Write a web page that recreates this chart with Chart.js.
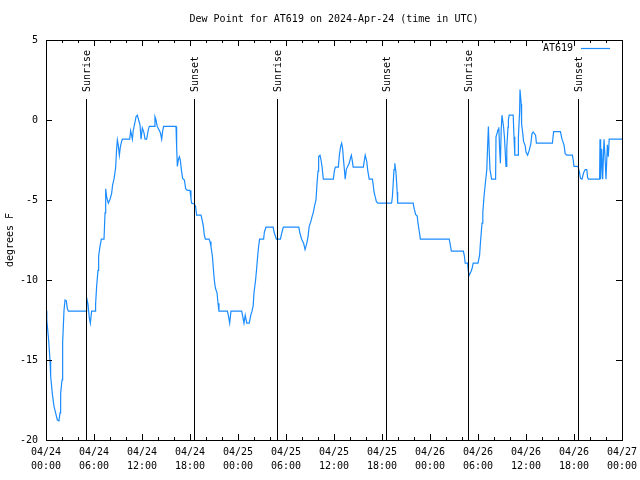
<!DOCTYPE html>
<html>
<head>
<meta charset="utf-8">
<script src="https://cdn.jsdelivr.net/npm/chart.js@4/dist/chart.umd.min.js"></script>
<style>
  html, body { margin: 0; padding: 0; background: #fff; }
</style>
</head>
<body>
<canvas id="dew-chart" width="640" height="480"></canvas>
<script>
// time in hours since 2024-04-24 00:00 UTC, dew point in degrees F
const hours = [
  0.0, 0.1, 0.33, 0.5, 0.58, 0.79, 1.0, 1.2, 1.42, 1.62, 1.75, 1.83, 2.0, 2.08, 2.25, 2.38, 2.54, 2.67, 2.8,
  5.0, 5.08, 5.25, 5.4, 5.54, 5.7, 6.17, 6.2, 6.33, 6.5, 6.58, 6.75, 6.92, 7.25, 7.38, 7.46, 7.58, 7.79,
  8.0, 8.2, 8.33, 8.5, 8.62, 8.7, 8.83, 8.92, 9.04, 9.17, 9.29, 9.42, 9.54, 10.46, 10.58, 10.8, 10.9,
  11.08, 11.25, 11.42, 11.58, 11.75, 11.88, 12.04, 12.25, 12.38, 12.58, 12.79, 12.92, 13.5, 13.62, 13.75,
  13.9, 14.1, 14.3, 14.46, 14.58, 14.7, 16.25, 16.33, 16.42, 16.54, 16.67, 16.79, 16.92, 17.08, 17.3,
  17.46, 17.67, 18.0, 18.12, 18.2, 18.54, 18.7, 18.83, 19.38, 19.54, 19.67, 19.79, 19.92, 20.38, 20.5,
  20.62, 20.8, 20.92, 21.04, 21.17, 21.38, 21.5, 21.62, 22.67, 22.79, 22.96, 23.12, 24.46, 24.6, 24.75,
  24.9, 25.1, 25.4, 25.6, 25.75, 25.9, 26.0, 26.2, 26.33, 26.46, 26.6, 26.7, 27.2, 27.3, 27.5, 28.4,
  28.5, 28.7, 28.8, 29.3, 29.5, 29.67, 31.6, 31.75, 31.96, 32.2, 32.38, 32.6, 32.75, 32.9, 33.1, 33.25,
  33.4, 33.6, 33.75, 33.88, 34.0, 34.08, 34.25, 34.38, 34.5, 34.67, 35.92, 36.04, 36.17, 36.54, 36.67,
  36.83, 36.96, 37.08, 37.17, 37.3, 37.4, 37.54, 37.7, 37.9, 38.1, 38.17, 38.3, 38.4, 39.67, 39.8, 39.9,
  40.1, 40.2, 40.4, 40.8, 40.9, 41.0, 41.2, 41.3, 41.5, 43.2, 43.3, 43.5, 43.6, 43.75, 43.9, 43.96,
  45.9, 46.0, 46.2, 46.4, 46.5, 46.67, 46.8, 50.4, 50.5, 50.67, 52.17, 52.3, 52.4, 52.7, 52.8, 52.9,
  53.1, 53.25, 53.4, 54.0, 54.2, 54.3, 54.5, 54.6, 54.75, 54.9, 55.1, 55.2, 55.3, 55.4, 55.5, 55.7,
  56.2, 56.25, 56.4, 56.5, 56.6, 56.7, 56.8, 56.9, 57.0, 57.2, 57.3, 57.5, 57.6, 57.75, 57.8, 57.9,
  58.4, 58.5, 58.6, 59.0, 59.05, 59.2, 59.25, 59.4, 59.45, 59.6, 59.7, 59.9, 60.0, 60.2, 60.4, 60.6,
  60.75, 60.9, 61.2, 61.3, 63.3, 63.45, 64.3, 64.5, 64.75, 64.9, 65.1, 65.8, 65.9, 66.0, 66.5, 66.7,
  66.8, 67.0, 67.2, 67.4, 67.6, 67.7, 67.8, 69.2, 69.25, 69.33, 69.46, 69.58, 69.75, 69.88, 70.0,
  70.17, 70.29, 70.4, 72.0
];
const dewPoint = [
  -11.9, -12.5, -13.75, -15, -16, -17.1, -17.9, -18.3, -18.75, -18.8, -18.3, -17.1, -16.25, -13.9, -11.9, -11.25, -11.3, -11.8, -11.95,
  -11.95, -11.1, -11.5, -12.3, -12.7, -11.95, -11.95, -11.5, -10.4, -9.4, -8.5, -7.9, -7.45, -7.45, -5.8, -4.3, -4.8, -5.2,
  -4.95, -4.6, -4.05, -3.7, -3.7, -3.0, -1.8, -1.25, -1.6, -2.2, -1.7, -1.4, -1.2, -1.2, -0.67, -1.2, -0.67,
  -0.25, 0.2, 0.3, 0.0, -0.3, -1.2, -0.5, -0.8, -1.2, -1.2, -0.6, -0.4, -0.4, 0.2, 0.0,
  -0.4, -0.6, -0.8, -1.2, -0.7, -0.4, -0.4, -1.7, -2.9, -2.5, -2.3, -2.5, -3.1, -3.65, -3.75,
  -4.3, -4.4, -4.4, -4.9, -5.2, -5.25, -5.4, -5.95, -5.95, -6.3, -6.65, -7.2, -7.45, -7.45, -7.6,
  -7.9, -8.5, -9.3, -10.0, -10.5, -10.8, -11.45, -11.95, -11.95, -12.2, -12.7, -11.95, -11.95, -12.3, -12.7,
  -12.2, -12.7, -12.7, -12.2, -11.95, -11.6, -10.8, -10.0, -9.3, -8.5, -7.8, -7.45, -7.45, -7.0, -6.7, -6.7,
  -7.0, -7.3, -7.45, -7.45, -7.0, -6.7, -6.7, -7.1, -7.45, -7.7, -8.1, -7.7, -7.3, -6.65, -6.35, -6.05,
  -5.8, -5.3, -5.0, -3.95, -3.2, -2.3, -2.2, -2.5, -2.9, -3.7, -3.7, -3.2, -2.95, -2.95, -2.2,
  -1.65, -1.45, -1.8, -2.4, -3.1, -3.7, -3.1, -2.9, -2.7, -2.3, -2.2, -2.6, -2.95, -2.95, -2.5, -2.2,
  -2.6, -3.1, -3.7, -3.7, -4.05, -4.5, -4.9, -5.1, -5.2, -5.2, -4.8, -3.1, -2.7, -3.3, -4.5, -5.2,
  -5.2, -5.5, -5.9, -6.0, -6.45, -7.0, -7.45, -7.45, -7.7, -8.2, -8.2, -8.5, -8.95, -8.95, -9.5, -9.7,
  -9.5, -9.3, -8.95, -8.95, -8.45, -7.7, -6.45, -5.8, -4.8, -4.05, -3.1, -1.65, -0.4, -1.9, -3.1, -3.7,
  -3.7, -1.05, -0.8, -0.6, -0.45, -1.8, -2.7, -0.6, 0.3, -0.45, -1.05, -2.9, -1.7, -0.45, 0.0, 0.3,
  0.3, -1.05, -2.2, -2.2, -1.05, 0.5, 1.9, 1.0, -0.25, -0.85, -1.35, -1.6, -2.0, -2.2, -1.9, -1.5,
  -0.85, -0.75, -0.95, -1.45, -1.45, -0.73, -0.73, -1.2, -1.55, -2.1, -2.2, -2.2, -2.5, -2.9, -2.9, -3.3,
  -3.65, -3.7, -3.3, -3.1, -3.1, -3.6, -3.7, -3.7, -1.2, -3.7, -1.8, -3.7, -1.2, -2.3, -3.7,
  -1.55, -2.3, -1.2, -1.2
];

const tickDates = ['04/24', '04/24', '04/24', '04/24', '04/25', '04/25', '04/25', '04/25', '04/26', '04/26', '04/26', '04/26', '04/27'];
const tickTimes = ['00:00', '06:00', '12:00', '18:00', '00:00', '06:00', '12:00', '18:00', '00:00', '06:00', '12:00', '18:00', '00:00'];

const sunTimes = [5.04, 18.54, 28.92, 42.54, 52.8, 66.54];
const sunLabels = ['Sunrise', 'Sunset', 'Sunrise', 'Sunset', 'Sunrise', 'Sunset'];

const lineColor = '#1a8cff';
const mono = "'DejaVu Sans Mono', monospace";

// gnuplot style frame: box, inward ticks, sunrise/sunset markers, key
const gnuplotFrame = {
  id: 'gnuplotFrame',
  afterDatasetsDraw(chart) {
    const { ctx, chartArea: a, scales: { x, y } } = chart;
    ctx.save();
    ctx.strokeStyle = '#000';
    ctx.lineWidth = 1;

    ctx.strokeRect(a.left + 0.5, a.top + 0.5, a.right - a.left, a.bottom - a.top);

    ctx.beginPath();
    for (let h = 0; h <= 72; h += 2) {
      const px = Math.round(x.getPixelForValue(h)) + 0.5;
      const len = h % 6 === 0 ? 6 : 3;
      ctx.moveTo(px, a.bottom); ctx.lineTo(px, a.bottom - len);
      ctx.moveTo(px, a.top); ctx.lineTo(px, a.top + len);
    }
    for (let v = -20; v <= 5; v += 5) {
      const py = Math.round(y.getPixelForValue(v)) + 0.5;
      ctx.moveTo(a.left, py); ctx.lineTo(a.left + 6, py);
      ctx.moveTo(a.right, py); ctx.lineTo(a.right - 6, py);
    }
    ctx.stroke();

    ctx.font = '10px ' + mono;
    ctx.fillStyle = '#000';
    sunTimes.forEach((t, i) => {
      const px = Math.round(x.getPixelForValue(t)) + 0.5;
      ctx.beginPath();
      ctx.moveTo(px, 99);
      ctx.lineTo(px, a.bottom);
      ctx.stroke();
      ctx.save();
      ctx.translate(px + 1, 92);
      ctx.rotate(-Math.PI / 2);
      ctx.textAlign = 'left';
      ctx.textBaseline = 'middle';
      ctx.fillText(sunLabels[i], 0, 0);
      ctx.restore();
    });

    // key
    ctx.textAlign = 'right';
    ctx.textBaseline = 'middle';
    ctx.fillText(chart.data.datasets[0].label, 573, 48);
    ctx.strokeStyle = lineColor;
    ctx.lineWidth = 1.2;
    ctx.beginPath();
    ctx.moveTo(581, 48.5);
    ctx.lineTo(610, 48.5);
    ctx.stroke();
    ctx.restore();
  }
};

new Chart(document.getElementById('dew-chart'), {
  type: 'line',
  data: {
    datasets: [{
      label: 'AT619',
      data: hours.map((h, i) => ({ x: h, y: dewPoint[i] })),
      borderColor: lineColor,
      borderWidth: 1.2,
      pointRadius: 0,
      tension: 0,
      fill: false
    }]
  },
  options: {
    responsive: false,
    animation: false,
    devicePixelRatio: 1,
    layout: { padding: { left: 0, right: 18, top: 0, bottom: 0 } },
    plugins: {
      legend: { display: false },
      tooltip: { enabled: false },
      title: {
        display: true,
        fullSize: false,
        text: 'Dew Point for AT619 on 2024-Apr-24 (time in UTC)',
        color: '#000',
        font: { family: mono, size: 10, weight: 'normal', lineHeight: 1.2 },
        padding: { top: 13, bottom: 15 }
      }
    },
    scales: {
      x: {
        type: 'linear',
        min: 0,
        max: 72,
        grid: { display: false, drawTicks: false },
        border: { display: false },
        afterFit: s => { s.height = 40; s.paddingLeft = 0; s.paddingRight = 0; },
        ticks: {
          stepSize: 6,
          autoSkip: false,
          maxRotation: 0,
          padding: 6,
          color: '#000',
          font: { family: mono, size: 10, lineHeight: 1.35 },
          callback: v => [tickDates[v / 6], tickTimes[v / 6]]
        }
      },
      y: {
        min: -20,
        max: 5,
        grid: { display: false, drawTicks: false },
        border: { display: false },
        afterFit: s => { s.width = 46; s.paddingTop = 0; s.paddingBottom = 0; },
        ticks: {
          stepSize: 5,
          padding: 8,
          color: '#000',
          font: { family: mono, size: 10 }
        },
        title: {
          display: true,
          text: 'degrees F',
          color: '#000',
          font: { family: mono, size: 10 },
          padding: { top: 4, bottom: 0 }
        }
      }
    }
  },
  plugins: [gnuplotFrame]
});
</script>
</body>
</html>
